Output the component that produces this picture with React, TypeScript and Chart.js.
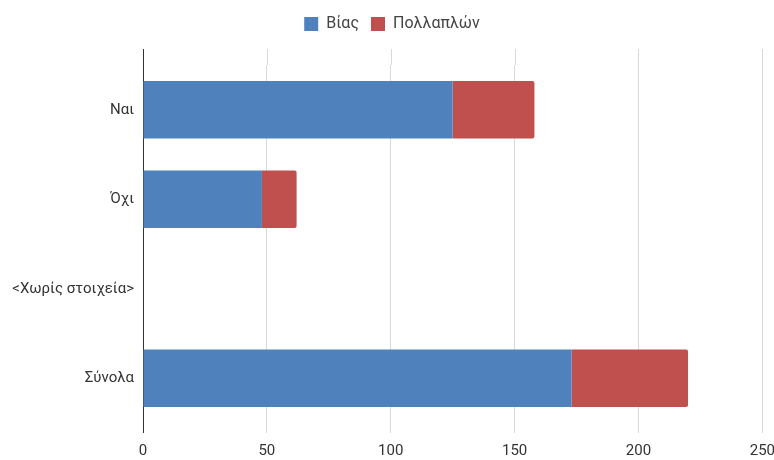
import React, { useEffect, useRef } from "react";
import { Chart, registerables } from "chart.js";

Chart.register(...registerables);

const categories = ["Ναι", "Όχι", "<Χωρίς στοιχεία>", "Σύνολα"];
const biasValues = [125, 48, 0, 173];
const pollaplonValues = [33, 14, 0, 47];
const seriesNames = ["Βίας", "Πολλαπλών"];
const xTickMax = 250;
const xTickStep = 50;

const FONT = 'Roboto, "Liberation Sans", Arial, sans-serif';

const gridExtend = {
  id: "gridExtend",
  beforeDatasetsDraw(chart: any) {
    const { ctx, chartArea, scales } = chart;
    const x = scales.x;
    ctx.save();
    x.ticks.forEach((t: any) => {
      const px = Math.round(x.getPixelForValue(t.value)) + 0.5;
      ctx.strokeStyle = t.value === 0 ? "#333333" : "#d9d9d9";
      ctx.lineWidth = 1;
      ctx.beginPath();
      ctx.moveTo(px, chartArea.top - 16);
      ctx.lineTo(px, chartArea.top);
      ctx.stroke();
    });
    ctx.restore();
  },
};

const legendSpacer = {
  id: "legendSpacer",
  beforeInit(chart: any) {
    const legend = chart.legend;
    if (!legend) return;
    const origFit = legend.fit;
    legend.fit = function () {
      origFit.call(this);
      this.height += 23;
    };
  },
};

export default function App() {
  const ref = useRef<HTMLCanvasElement>(null);
  useEffect(() => {
    if (!ref.current) return;
    const chart = new Chart(ref.current, {
      type: "bar",
      data: {
        labels: categories,
        datasets: [
          {
            label: seriesNames[0],
            data: biasValues,
            backgroundColor: "#4f81bd",
            borderRadius: 2,
            categoryPercentage: 1,
            barPercentage: 0.64,
          },
          {
            label: seriesNames[1],
            data: pollaplonValues,
            backgroundColor: "#c0504d",
            borderRadius: 2,
            categoryPercentage: 1,
            barPercentage: 0.64,
          },
        ],
      },
      options: {
        indexAxis: "y",
        responsive: false,
        animation: false,
        layout: { padding: { top: 4, right: 0, bottom: 0, left: 0 } },
        plugins: {
          legend: {
            position: "top",
            labels: {
              boxWidth: 14,
              boxHeight: 14,
              padding: 12,
              color: "#444444",
              font: { family: FONT, size: 16 },
            },
          },
          tooltip: { enabled: false },
        },
        scales: {
          x: {
            stacked: true,
            min: 0,
            max: xTickMax,
            afterFit: (s: any) => {
              s.height = 37;
            },
            ticks: {
              stepSize: xTickStep,
              color: "#333333",
              padding: 9,
              font: { family: FONT, size: 15 },
            },
            grid: {
              color: (c: any) => (c.tick && c.tick.value === 0 ? "#333333" : "#d9d9d9"),
              tickLength: 10,
              tickColor: (c: any) => (c.tick && c.tick.value === 0 ? "#333333" : "#d9d9d9"),
            },
            border: { display: false },
          },
          y: {
            stacked: true,
            afterFit: (s: any) => {
              s.width = 143;
            },
            ticks: {
              color: "#333333",
              padding: 9,
              font: { family: FONT, size: 15 },
            },
            grid: { display: false, drawTicks: false },
            border: { display: false },
          },
        },
      },
      plugins: [gridExtend, legendSpacer],
    });
    return () => chart.destroy();
  }, []);
  return (
    <div style={{ position: "fixed", left: 0, top: 0, width: 774, height: 460, overflow: "hidden", background: "#fff" }}>
      <canvas ref={ref} width={784} height={460} style={{ display: "block" }} />
    </div>
  );
}
